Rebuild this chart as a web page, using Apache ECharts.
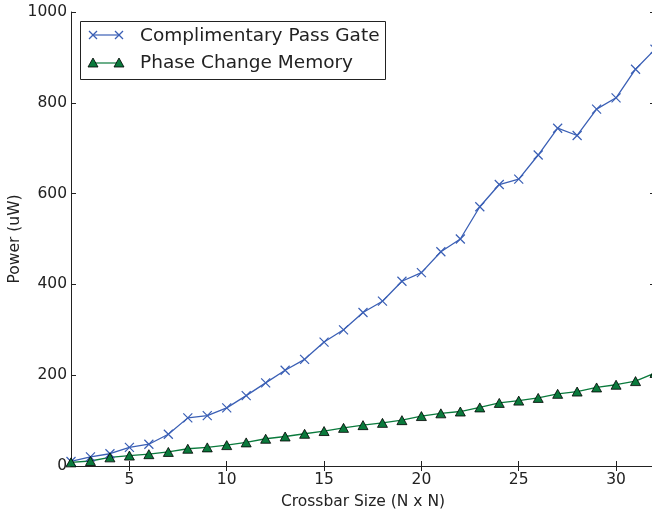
<!DOCTYPE html>
<html>
<head>
<meta charset="utf-8">
<script src="https://cdn.jsdelivr.net/npm/echarts@6/dist/echarts.min.js"></script>
<style>
  html, body { margin: 0; padding: 0; background: #fff; }
  #chart { width: 652px; height: 512px; }
</style>
</head>
<body>
<div id="chart"></div>
<script>
// crossbar size N
const crossbarSize = [2, 3, 4, 5, 6, 7, 8, 9, 10, 11, 12, 13, 14, 15, 16, 17,
  18, 19, 20, 21, 22, 23, 24, 25, 26, 27, 28, 29, 30, 31, 32];
// power (uW)
const passGatePower = [10, 20, 27, 41, 48, 70, 106, 111, 128, 155, 183, 211, 235, 273, 300, 338,
  363, 407, 426, 472, 500, 571, 620, 632, 685, 744, 728, 786, 811, 874, 918];
const pcmPower = [8, 11, 19, 23, 26, 31, 38, 41, 46, 52, 60, 65, 71, 77, 84, 90,
  95, 101, 110, 116, 120, 129, 139, 144, 150, 159, 164, 173, 179, 187, 205];

const xTicks = [5, 10, 15, 20, 25, 30];
const yTicks = [0, 200, 400, 600, 800, 1000];

const BLUE = '#3a5fb5';
const GREEN = '#0a7a3c';
const TEXT = '#222';
const FONT = 'DejaVu Sans';
const X_PATH = 'path://M0,0L10,10M10,0L0,10';

const chart = echarts.init(document.getElementById('chart'));

const zip = (xs, ys) => xs.map((x, i) => [x, ys[i]]);

const xBase = {
  type: 'value', min: 2, max: 32,
  splitLine: { show: false },
  axisLine: { lineStyle: { color: TEXT, width: 1 } },
  axisTick: { inside: true, length: 5, customValues: xTicks, lineStyle: { color: TEXT } }
};
const yBase = {
  type: 'value', min: 0, max: 1000, interval: 200,
  splitLine: { show: false },
  axisLine: { show: true, lineStyle: { color: TEXT, width: 1 } },
  axisTick: { show: true, inside: true, length: 5, lineStyle: { color: TEXT } }
};

// legend drawn by hand to get matplotlib style (marker at each end)
function xMark(cx, cy, r) {
  return [
    { type: 'line', shape: { x1: cx - r, y1: cy - r, x2: cx + r, y2: cy + r }, style: { stroke: BLUE, lineWidth: 1.2 } },
    { type: 'line', shape: { x1: cx - r, y1: cy + r, x2: cx + r, y2: cy - r }, style: { stroke: BLUE, lineWidth: 1.2 } }
  ];
}
function triMark(cx, cy, r) {
  return { type: 'polygon', shape: { points: [[cx, cy - r], [cx + r, cy + r * 0.8], [cx - r, cy + r * 0.8]] },
    style: { fill: GREEN, stroke: '#000', lineWidth: 0.8 } };
}

const legendGraphics = [
  { type: 'rect', shape: { x: 80.5, y: 21.5, width: 305, height: 58 }, style: { fill: '#fff', stroke: TEXT, lineWidth: 1 }, z: 100 },
  { type: 'line', shape: { x1: 93, y1: 35, x2: 119, y2: 35 }, style: { stroke: BLUE, lineWidth: 1.2 }, z: 101 },
  ...xMark(93, 35, 4).map(g => Object.assign(g, { z: 102 })),
  ...xMark(119, 35, 4).map(g => Object.assign(g, { z: 102 })),
  { type: 'text', x: 140, y: 36, style: { text: 'Complimentary Pass Gate', font: '18.5px "' + FONT + '"', fill: TEXT, verticalAlign: 'middle' }, z: 102 },
  { type: 'line', shape: { x1: 93, y1: 63, x2: 119, y2: 63 }, style: { stroke: GREEN, lineWidth: 1.2 }, z: 101 },
  Object.assign(triMark(93, 63, 5), { z: 102 }),
  Object.assign(triMark(119, 63, 5), { z: 102 }),
  { type: 'text', x: 140, y: 63, style: { text: 'Phase Change Memory', font: '18.5px "' + FONT + '"', fill: TEXT, verticalAlign: 'middle' }, z: 102 }
];

const option = {
  backgroundColor: '#fff',
  animation: false,
  textStyle: { fontFamily: FONT },
  grid: { left: 71, right: -3, top: 12, bottom: 46, outerBoundsMode: 'none' },
  xAxis: [
    Object.assign({}, xBase, {
      position: 'bottom',
      name: 'Crossbar Size (N x N)', nameLocation: 'middle', nameGap: 28,
      nameMoveOverlap: false,
      nameTextStyle: { fontSize: 15.5, color: TEXT, fontFamily: FONT },
      axisLabel: { customValues: xTicks, margin: 6, fontSize: 15.5, color: TEXT, fontFamily: FONT }
    }),
    Object.assign({}, xBase, { position: 'top', axisLabel: { show: false } })
  ],
  yAxis: [
    Object.assign({}, yBase, {
      position: 'left',
      name: 'Power (uW)', nameLocation: 'middle', nameGap: 48,
      nameMoveOverlap: false,
      nameTextStyle: { fontSize: 15.5, color: TEXT, fontFamily: FONT },
      axisLabel: { margin: 4, fontSize: 15.5, color: TEXT, fontFamily: FONT, formatter: v => String(v) }
    }),
    Object.assign({}, yBase, { position: 'right', axisLabel: { show: false } })
  ],
  series: [
    {
      name: 'Complimentary Pass Gate',
      type: 'line',
      data: zip(crossbarSize, passGatePower),
      symbol: X_PATH,
      symbolSize: 9,
      lineStyle: { color: BLUE, width: 1.3 },
      itemStyle: { color: BLUE, borderColor: BLUE, borderWidth: 1.2 }
    },
    {
      name: 'Phase Change Memory',
      type: 'line',
      data: zip(crossbarSize, pcmPower),
      symbol: 'triangle',
      symbolSize: [10, 9],
      lineStyle: { color: GREEN, width: 1.3 },
      itemStyle: { color: GREEN, borderColor: '#000', borderWidth: 0.8 }
    }
  ],
  graphic: legendGraphics
};

chart.setOption(option);
</script>
</body>
</html>
